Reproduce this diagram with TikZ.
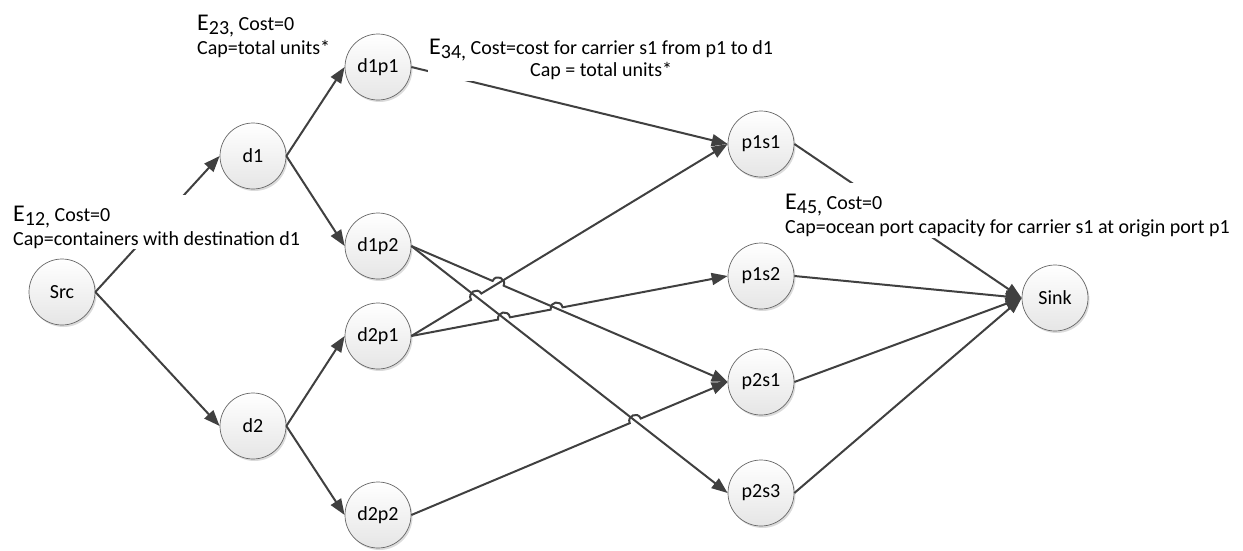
\documentclass[tikz,border=0pt]{standalone}
\usepackage{fontspec}
\setmainfont{Carlito}
\usepackage{xcolor}
\usetikzlibrary{arrows.meta,shadows,calc}

\newcommand{\edgename}[2]{\rule{0pt}{25pt}{\fontsize{24}{24}\selectfont E}\raisebox{-4pt}{#1,} #2}

\begin{document}
\begin{tikzpicture}[x=1pt,y=-1pt,
  vertex/.style={circle,draw=black!60,line width=0.7pt,minimum size=66pt,inner sep=0pt,
    top color=white,bottom color=black!10,
    drop shadow={shadow xshift=1.5pt,shadow yshift=-2pt,opacity=0.2,fill=black!70},
    font=\fontsize{20}{24}\selectfont},
  flow/.style={draw=black!75,line width=2pt,-{Triangle[length=16pt,width=12pt]}},
  tag/.style={fill=white,inner sep=1pt,anchor=north west,font=\fontsize{20}{24}\selectfont}]
\useasboundingbox (0,0) rectangle (1243,550);

\node[vertex] (src) at (62,292) {Src};
\node[vertex] (d1) at (253,156) {d1};
\node[vertex] (d2) at (253,426) {d2};
\node[vertex] (d1p1) at (378,67) {d1p1};
\node[vertex] (d1p2) at (378,246) {d1p2};
\node[vertex] (d2p1) at (378,336) {d2p1};
\node[vertex] (d2p2) at (378,515) {d2p2};
\node[vertex] (p1s1) at (761,144) {p1s1};
\node[vertex] (p1s2) at (761,276) {p1s2};
\node[vertex] (p2s1) at (761,382) {p2s1};
\node[vertex] (p2s3) at (761,493) {p2s3};
\node[vertex] (sink) at (1055,298) {Sink};

\coordinate (j1) at (intersection of d1p2.east--p2s1.west and d2p1.east--p1s1.west);
\coordinate (j2) at (intersection of d2p1.east--p1s1.west and d1p2.east--p2s3.west);
\coordinate (j3) at (intersection of d2p1.east--p1s2.west and d1p2.east--p2s3.west);
\coordinate (j4) at (intersection of d2p1.east--p1s2.west and d1p2.east--p2s1.west);
\coordinate (j5) at (intersection of d2p2.east--p2s1.west and d1p2.east--p2s3.west);
\coordinate (j1a) at ($(j1)!6pt!(d1p2.east)$);
\coordinate (j1b) at ($(j1)!6pt!(p2s1.west)$);
\coordinate (j2a) at ($(j2)!6pt!(d2p1.east)$);
\coordinate (j2b) at ($(j2)!6pt!(p1s1.west)$);
\coordinate (j3a) at ($(j3)!6pt!(d2p1.east)$);
\coordinate (j3b) at ($(j3)!6pt!(p1s2.west)$);
\coordinate (j4a) at ($(j4)!6pt!(d2p1.east)$);
\coordinate (j4b) at ($(j4)!6pt!(p1s2.west)$);
\coordinate (j5a) at ($(j5)!6pt!(d2p2.east)$);
\coordinate (j5b) at ($(j5)!6pt!(p2s1.west)$);

\draw[flow] (src.east) -- (d1.west);
\draw[flow] (src.east) -- (d2.west);
\draw[flow] (d1.east) -- (d1p1.west);
\draw[flow] (d1.east) -- (d1p2.west);
\draw[flow] (d2.east) -- (d2p1.west);
\draw[flow] (d2.east) -- (d2p2.west);
\draw[flow] (d1p1.east) -- (p1s1.west);
\draw[flow] (d1p2.east) -- (j1a) .. controls ($(j1a)!8pt!90:(j1)$) and ($(j1b)!8pt!-90:(j1)$) .. (j1b) -- (p2s1.west);
\draw[flow] (d1p2.east) -- (p2s3.west);
\draw[flow] (d2p1.east) -- (j2a) .. controls ($(j2a)!8pt!90:(j2)$) and ($(j2b)!8pt!-90:(j2)$) .. (j2b) -- (p1s1.west);
\draw[flow] (d2p1.east) -- (j3a) .. controls ($(j3a)!8pt!90:(j3)$) and ($(j3b)!8pt!-90:(j3)$) .. (j3b)
  -- (j4a) .. controls ($(j4a)!8pt!90:(j4)$) and ($(j4b)!8pt!-90:(j4)$) .. (j4b) -- (p1s2.west);
\draw[flow] (d2p2.east) -- (j5a) .. controls ($(j5a)!8pt!90:(j5)$) and ($(j5b)!8pt!-90:(j5)$) .. (j5b) -- (p2s1.west);
\draw[flow] (p1s1.east) -- (sink.west);
\draw[flow] (p1s2.east) -- (sink.west);
\draw[flow] (p2s1.east) -- (sink.west);
\draw[flow] (p2s3.east) -- (sink.west);

\node[tag,align=left] (e12) at (12,195) {\edgename{12}{Cost=0}\\Cap=containers with destination d1};
\node[tag,align=left] (e23) at (196,4) {\edgename{23}{Cost=0}\\Cap=total units*};
\node[tag,align=center,font=\fontsize{20}{22}\selectfont,inner ysep=2pt] (e34) at (428,27) {\edgename{34}{Cost=cost for carrier s1 from p1 to d1}\\Cap = total units*};
\node[tag,align=left] (e45) at (784,183) {\edgename{45}{Cost=0}\\Cap=ocean port capacity for carrier s1 at origin port p1};
\end{tikzpicture}
\end{document}
